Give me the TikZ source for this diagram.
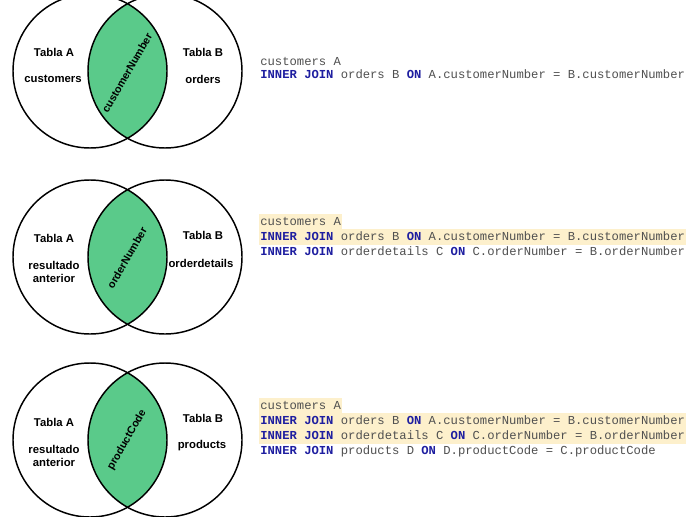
\documentclass[tikz,border=0pt]{standalone}
\usepackage{fontspec}
\setmainfont{Liberation Sans}
\newfontfamily\codefont{Liberation Mono}
\usepackage{tikz}
\usetikzlibrary{positioning}

\definecolor{setgreen}{RGB}{90,202,138}
\definecolor{kwblue}{RGB}{30,30,160}
\definecolor{codegray}{RGB}{80,80,80}
\definecolor{hlyellow}{RGB}{253,240,204}
\newcommand{\kw}[1]{\textcolor{kwblue}{\textbf{#1}}}

\begin{document}
\begin{tikzpicture}[
    x=0.75pt, y=-0.75pt,
    set/.style={draw=black, line width=1.1pt},
    lbl/.style={font=\fontsize{8.5}{10}\selectfont\bfseries, align=center, inner sep=0pt},
    key/.style={lbl, font=\fontsize{8.1}{10}\selectfont\bfseries, rotate=60},
    codeln/.style={anchor=west, font=\codefont\fontsize{9.15}{11}\selectfont, text=codegray,
      text height=7pt, text depth=2.5pt, inner xsep=0.8pt, inner ysep=1.3pt},
    hl/.style={codeln, fill=hlyellow}]
  \clip (0,0) rectangle (699,517);
  \fill[white] (0,0) rectangle (699,517);

  % first join: customers - orders
  \coordinate (a1) at (90,71);
  \coordinate (b1) at (165,71);
  \begin{scope}
    \clip (a1) circle[radius=57.75pt];
    \fill[setgreen] (b1) circle[radius=57.75pt];
  \end{scope}
  \draw[set] (a1) circle[radius=57.75pt];
  \draw[set] (b1) circle[radius=57.75pt];
  \node[lbl] (ta1) at (54,52) {Tabla A};
  \node[lbl] (na1) at (53,79) {customers};
  \node[lbl] (tb1) at (203,52) {Tabla B};
  \node[lbl] (nb1) at (203,79) {orders};
  \node[key] (k1) at (127,73) {customerNumber};

  % second join: resultado - orderdetails
  \coordinate (a2) at (90,257);
  \coordinate (b2) at (165,257);
  \begin{scope}
    \clip (a2) circle[radius=57.75pt];
    \fill[setgreen] (b2) circle[radius=57.75pt];
  \end{scope}
  \draw[set] (a2) circle[radius=57.75pt];
  \draw[set] (b2) circle[radius=57.75pt];
  \node[lbl] (ta2) at (54,238) {Tabla A};
  \node[lbl] (na2) at (54,272) {resultado\\anterior};
  \node[lbl] (tb2) at (203,235) {Tabla B};
  \node[lbl] (nb2) at (201,263) {orderdetails};
  \node[key] (k2) at (127,258) {orderNumber};

  % third join: resultado - products
  \coordinate (a3) at (90,440);
  \coordinate (b3) at (165,440);
  \begin{scope}
    \clip (a3) circle[radius=57.75pt];
    \fill[setgreen] (b3) circle[radius=57.75pt];
  \end{scope}
  \draw[set] (a3) circle[radius=57.75pt];
  \draw[set] (b3) circle[radius=57.75pt];
  \node[lbl] (ta3) at (54,422) {Tabla A};
  \node[lbl] (na3) at (54,456) {resultado\\anterior};
  \node[lbl] (tb3) at (203,418) {Tabla B};
  \node[lbl] (nb3) at (202,446) {products};
  \node[key] (k3) at (127,440) {productCode};

  % queries
  \node[codeln] (q1a) at (259,62) {customers A};
  \node[codeln] (q1b) at (259,76) {\kw{INNER JOIN} orders B \kw{ON} A.customerNumber = B.customerNumber};

  \node[hl] (q2a) at (259,222) {customers A};
  \node[hl] (q2b) at (259,237) {\kw{INNER JOIN} orders B \kw{ON} A.customerNumber = B.customerNumber};
  \node[codeln] (q2c) at (259,252) {\kw{INNER JOIN} orderdetails C \kw{ON} C.orderNumber = B.orderNumber};

  \node[hl] (q3a) at (259,406) {customers A};
  \node[hl] (q3b) at (259,421) {\kw{INNER JOIN} orders B \kw{ON} A.customerNumber = B.customerNumber};
  \node[hl] (q3c) at (259,436) {\kw{INNER JOIN} orderdetails C \kw{ON} C.orderNumber = B.orderNumber};
  \node[codeln] (q3d) at (259,451) {\kw{INNER JOIN} products D \kw{ON} D.productCode = C.productCode};
\end{tikzpicture}
\end{document}
